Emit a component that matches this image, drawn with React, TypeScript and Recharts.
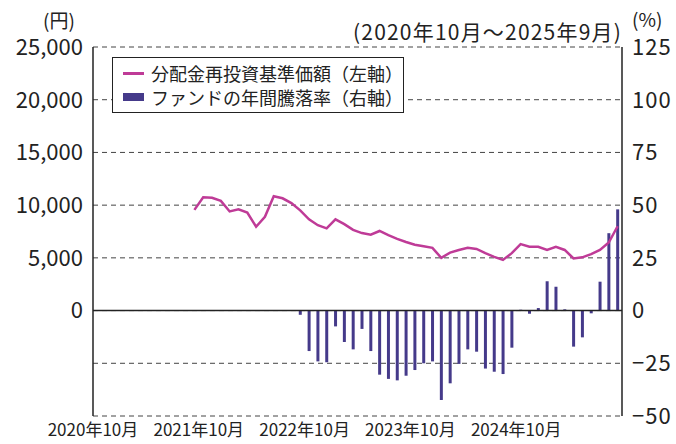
import {
  Bar,
  CartesianGrid,
  ComposedChart,
  Line,
  ReferenceLine,
  XAxis,
  YAxis,
} from "recharts";

const FONT = '"Noto Sans CJK JP", "Noto Sans", sans-serif';
const LINE_COLOR = "#bf3b97";
const BAR_COLOR = "#453a8a";

// month index 0 = 2020年10月 ... 59 = 2025年9月
const navValues: (number | null)[] = [
  null, null, null, null, null, null, null, null, null, null, null,
  9550, 10750, 10700, 10400, 9400, 9600, 9300, 7950, 8900, 10850,
  10650, 10200, 9500, 8650, 8100, 7800, 8650, 8200, 7650, 7350,
  7200, 7550, 7150, 6800, 6500, 6250, 6100, 5950, 5000, 5500,
  5750, 5950, 5850, 5450, 5100, 4800, 5450, 6300, 6050, 6050,
  5750, 6050, 5750, 4950, 5050, 5350, 5750, 6450, 8000,
];

const annualReturns: (number | null)[] = [
  null, null, null, null, null, null, null, null, null, null, null, null,
  null, null, null, null, null, null, null, null, null, null, null,
  -2, -19.2, -24.1, -24.5, -7.5, -14.9, -18.4, -8.7, -19.2, -30.4,
  -32.4, -33.1, -30.9, -28.2, -25.0, -24.1, -42.4, -34.5, -25.3, -18.4,
  -19.5, -27.5, -29.0, -30.1, -17.6, 0.4, -1.5, 1.2, 13.9, 11.3,
  0.6, -17.1, -12.7, -1.3, 13.7, 36.7, 48.0,
];

const xTickPos = [0, 12, 24, 36, 48];
const xTickLabels = ["2020年10月", "2021年10月", "2022年10月", "2023年10月", "2024年10月"];
const leftTicks = [0, 5000, 10000, 15000, 20000, 25000];
const rightTicks = [-50, -25, 0, 25, 50, 75, 100, 125];
const seriesNames = ["分配金再投資基準価額（左軸）", "ファンドの年間騰落率（右軸）"];

const data = navValues.map((nav, i) => ({
  x: i + 0.5,
  nav,
  ret: annualReturns[i],
}));

export default function App() {
  return (
    <div style={{ position: "absolute", left: 0, top: 0, width: 676, height: 444, background: "#fff", fontFamily: FONT, color: "#222" }}>
      <ComposedChart width={676} height={444} data={data} margin={{ top: 47, right: 0, bottom: 0, left: 0 }}>
        <CartesianGrid yAxisId="right" vertical={false} strokeDasharray="5 4" stroke="#444" horizontalValues={rightTicks} />
        <XAxis
          dataKey="x"
          type="number"
          domain={[0, 60]}
          ticks={xTickPos}
          tickFormatter={(v: number) => xTickLabels[xTickPos.indexOf(v)] ?? ""}
          axisLine={false}
          tickLine={false}
          height={28}
          interval={0}
          tick={{ fontSize: 17, fill: "#222", fontFamily: FONT }}
        />
        <YAxis
          yAxisId="left"
          domain={[-10000, 25000]}
          ticks={leftTicks}
          width={93}
          tickLine={false}
          axisLine={{ stroke: "#222", strokeWidth: 1.5 }}
          tickFormatter={(v: number) => v.toLocaleString("en-US")}
          tick={{ fontSize: 22, fill: "#222", fontFamily: FONT }}
          tickMargin={4}
        />
        <YAxis
          yAxisId="right"
          orientation="right"
          domain={[-50, 125]}
          ticks={rightTicks}
          width={54}
          tickLine={false}
          axisLine={{ stroke: "#222", strokeWidth: 1.5 }}
          tickFormatter={(v: number) => (v < 0 ? `−${-v}` : `${v}`)}
          tick={{ fontSize: 22, fill: "#222", fontFamily: FONT, letterSpacing: 1 }}
          tickMargin={4}
        />
        <ReferenceLine yAxisId="right" y={0} stroke="#222" strokeWidth={1.5} />
        <Bar yAxisId="right" dataKey="ret" fill={BAR_COLOR} barSize={3} isAnimationActive={false} />
        <Line
          yAxisId="left"
          dataKey="nav"
          stroke={LINE_COLOR}
          strokeWidth={2.5}
          dot={false}
          type="linear"
          connectNulls={false}
          isAnimationActive={false}
        />
      </ComposedChart>

      <div style={{ position: "absolute", left: 43, top: 10, fontSize: 19, lineHeight: 1 }}>(円)</div>
      <div style={{ position: "absolute", left: 353, top: 21, fontSize: 21, lineHeight: 1, letterSpacing: 1.2, whiteSpace: "nowrap" }}>
        (2020年10月～2025年9月)
      </div>
      <div style={{ position: "absolute", left: 632, top: 9, fontSize: 19, lineHeight: 1, whiteSpace: "nowrap" }}>(%)</div>

      <div
        style={{
          position: "absolute",
          left: 112,
          top: 57,
          width: 292,
          height: 56,
          boxSizing: "border-box",
          border: "1.5px solid #222",
          background: "#fff",
          paddingLeft: 10,
          paddingTop: 3,
          fontSize: 18,
          lineHeight: "24px",
        }}
      >
        {seriesNames.map((name, i) => (
          <div key={name} style={{ display: "flex", alignItems: "center", whiteSpace: "nowrap" }}>
            <span
              style={{
                display: "inline-block",
                width: 22,
                height: i === 0 ? 3 : 8,
                background: i === 0 ? LINE_COLOR : BAR_COLOR,
                marginRight: 7,
              }}
            />
            {name}
          </div>
        ))}
      </div>
    </div>
  );
}
